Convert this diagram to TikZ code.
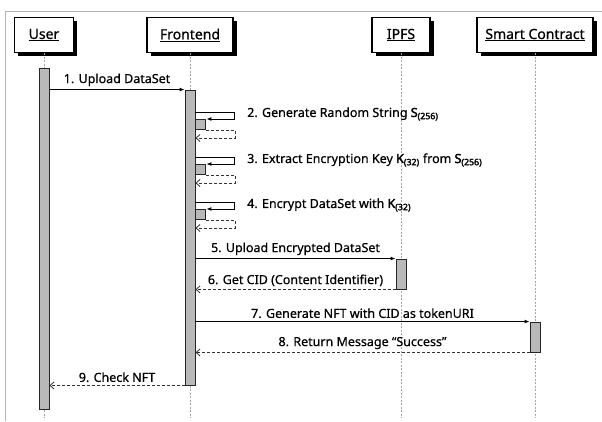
\documentclass[tikz,border=0pt]{standalone}
\usepackage{fontspec}
\setmainfont{Noto Sans}[FakeBold=0.6]
\newfontfamily\boldfam{Noto Sans}[FakeBold=2.6]
\newcommand{\bsub}[2]{{\boldfam #1}\textsubscript{\boldfam #2}}
\usetikzlibrary{
	positioning,   %相对定位
	arrows.meta,   %箭头
	shadows        %阴影
}
\tikzset{
	every picture/.style={
		>=latex,
		node distance=5mm and 5mm
}}

\begin{document}
\begin{tikzpicture}[x=1pt,y=-1pt]
\tikzstyle{actor}=[rectangle, draw=black, line width=1.2pt, fill=white, minimum height=35pt, font=\fontsize{14}{16}\selectfont, general shadow={fill=black, shadow xshift=3.5pt, shadow yshift=-3.5pt}]
\tikzstyle{life}=[gray!70, line width=0.6pt, dash pattern=on 2pt off 1.5pt]
\tikzstyle{bar}=[rectangle, draw=black!85, fill=gray!55, line width=0.9pt, minimum width=10pt, inner sep=0pt]
\tikzstyle{msg}=[-{Latex[length=5pt,width=4pt]}, line width=1pt]
\tikzstyle{ret}=[-{Straight Barb[length=4pt,width=7pt]}, dash pattern=on 3pt off 2pt, line width=0.8pt, black!80]
\tikzstyle{lbl}=[font=\fontsize{12.5}{14}\selectfont, text=black, inner sep=1pt]
\useasboundingbox (0,0) rectangle (602,421);
\draw[gray!60, line width=1pt] (602,11) -- (5,11) -- (5,421);

% participants
\node[actor, minimum width=59pt] (user) at (44,35) {\underline{User}};
\node[actor, minimum width=86pt] (front) at (190,35) {\underline{Frontend}};
\node[actor, minimum width=58pt] (ipfs) at (401,35) {\underline{IPFS}};
\node[actor, minimum width=116pt] (sc) at (535,35) {\underline{Smart Contract}};

% lifelines
\coordinate (bottom) at (0,418);
\draw[life] (user.south) -- (user |- bottom);
\draw[life] (front.south) -- (front |- bottom);
\draw[life] (ipfs.south) -- (ipfs |- bottom);
\draw[life] (sc.south) -- (sc |- bottom);

% activations
\node[bar, minimum height=341pt, below=15pt of user.south] (ubar) {};
\node[bar, minimum height=295pt] (fbar) at (190,237.5) {};
\node[bar, minimum height=30pt] (ibar) at (401,274) {};
\node[bar, minimum height=30pt] (sbar) at (535,337) {};

% self calls
\foreach \n/\y in {2/112,3/157,4/202}{
	\coordinate (c\n) at (0,\y);
	\node[bar, minimum height=10pt, anchor=north west] (b\n) at (fbar.east |- 0,\y+7) {};
	\draw[msg] (fbar.east |- c\n) -- ++(39,0) |- (b\n.north east);
	\draw[ret] (b\n.south east) -- ++(29,0) |- (fbar.east |- 0,\y+26);
}
\node[lbl, anchor=west] (t2) at (246,114) {2. Generate Random String \bsub{S}{(256)}};
\node[lbl, anchor=west] (t3) at (246,160) {3. Extract Encryption Key \bsub{K}{(32)} from \bsub{S}{(256)}};
\node[lbl, anchor=west] (t4) at (246,205) {4. Encrypt DataSet with \bsub{K}{(32)}};

% messages
\draw[msg] (ubar.east |- fbar.north) -- node[lbl, above=2pt] (t1) {1. Upload DataSet} (fbar.west |- fbar.north);
\draw[msg] (fbar.east |- ibar.north) -- node[lbl, above=2pt] (t5) {5. Upload Encrypted DataSet} (ibar.north west);
\draw[ret] (ibar.south west) -- node[lbl, above=2pt] (t6) {6. Get CID (Content Identifier)} (fbar.east |- ibar.south);
\draw[msg] (fbar.east |- sbar.north) -- node[lbl, above=2pt] (t7) {7. Generate NFT with CID as tokenURI} (sbar.north west);
\draw[ret] (sbar.south west) -- node[lbl, above=2pt] (t8) {8. Return Message “Success”} (fbar.east |- sbar.south);
\draw[ret] (fbar.south west) -- node[lbl, above=2pt] (t9) {9. Check NFT} (ubar.east |- fbar.south);
\end{tikzpicture}
\end{document}
